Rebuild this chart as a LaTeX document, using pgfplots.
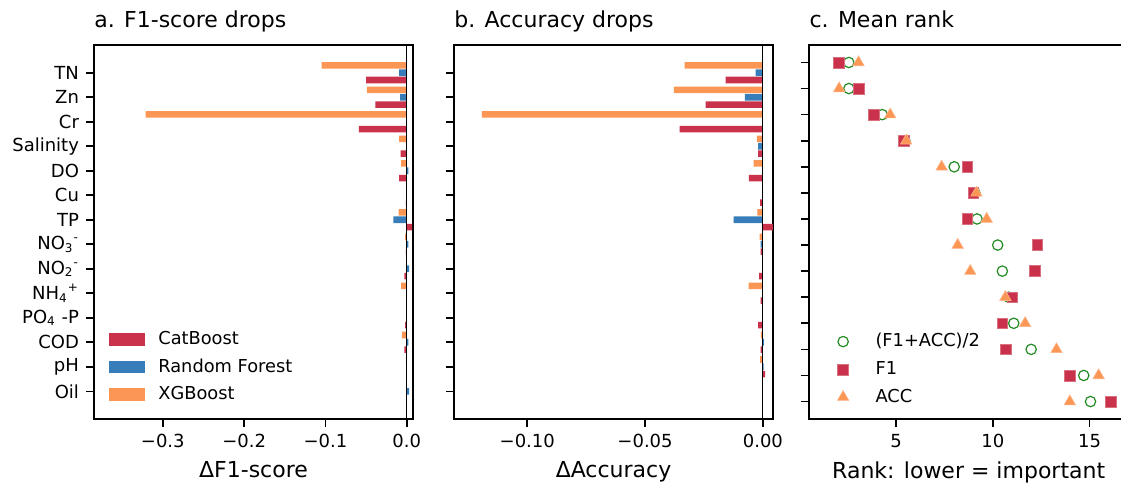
\documentclass[border=0pt]{standalone}
\usepackage{pgfplots}
\usepackage{pgfplotstable}
\pgfplotsset{compat=1.18}
\usepackage{fontspec}
\setmainfont{DejaVu Sans}
\definecolor{cat}{RGB}{201,50,74}
\definecolor{rf}{RGB}{55,125,185}
\definecolor{xgb}{RGB}{252,150,85}
\definecolor{mgreen}{RGB}{34,139,34}

% F1-score drops
\pgfplotstableread{
idx cat rf xgb
0 -0.050 -0.0095 -0.1046
1 -0.0386 -0.008 -0.049
2 -0.059 0 -0.321
3 -0.0074 0 -0.0095
4 -0.0095 0.002 -0.007
5 -0.0012 0 0
6 0.0065 -0.0165 -0.010
7 -0.001 0.002 -0.002
8 -0.003 0.003 0
9 0 0 -0.007
10 -0.002 0 0
11 -0.003 0.002 -0.006
12 0 0 -0.001
13 0 0.003 0
}\fone

% Accuracy drops
\pgfplotstableread{
idx cat rf xgb
0 -0.0158 -0.0031 -0.0332
1 -0.0243 -0.0076 -0.0378
2 -0.0353 0 -0.1193
3 -0.002 -0.002 -0.0025
4 -0.0059 0 -0.0039
5 -0.0012 0 0
6 0.0043 -0.0124 -0.0023
7 -0.001 -0.001 -0.0014
8 -0.0016 0 0
9 -0.001 0 -0.006
10 -0.002 0 0
11 -0.001 0.0004 -0.0008
12 0.001 0.0003 -0.0012
13 0 0 0
}\acc

% Mean rank
\pgfplotstableread{
idx f1 accr mean
0 2.05 3.05 2.55
1 3.05 2.05 2.55
2 3.86 4.69 4.28
3 5.38 5.52 5.45
4 8.68 7.35 8.00
5 8.99 9.15 9.07
6 8.68 9.68 9.18
7 12.30 8.18 10.25
8 12.15 8.83 10.49
9 11.00 10.65 10.82
10 10.49 11.67 11.08
11 10.66 13.29 11.98
12 13.98 15.47 14.70
13 16.10 13.98 15.05
}\rank

\pgfplotsset{
  myaxis/.style={
    scale only axis, width=159.5pt, height=187pt, anchor=south west,
    axis line style={line width=0.8pt},
    every tick/.style={line width=0.8pt, black},
    major tick length=4pt,
    tick align=outside, xtick pos=bottom, ytick pos=left,
    font=\fontsize{9}{11}\selectfont,
    tick label style={font=\fontsize{9}{11}\selectfont},
    label style={font=\fontsize{11}{13}\selectfont},
    title style={font=\fontsize{11}{13}\selectfont, at={(0,1)}, anchor=base west, yshift=3pt, inner sep=0pt},
    y dir=reverse, ytick={0,...,13},
  },
  mybar/.style={xbar, bar width=0.27, draw=none, fill=#1,
    legend image code/.code={\fill[#1] (0pt,-3.2pt) rectangle (18pt,3.2pt);}},
  barlegend/.style={legend style={at={(0.028,0.024)}, anchor=south west, draw=none, fill=none,
    font=\fontsize{8.9}{10.5}\selectfont, legend cell align=left, row sep=2.6pt,
    nodes={inner sep=1.5pt}, column sep=5pt}},
}

\begin{document}
\begin{tikzpicture}
% panel a
\begin{axis}[myaxis, at={(47pt,32.5pt)},
  xmin=-0.3846, xmax=0.0077, ymin=-1.13, ymax=14.13,
  xtick={-0.3,-0.2,-0.1,0}, xticklabels={−0.3,−0.2,−0.1,0.0},
  yticklabels={TN,Zn,Cr,Salinity,DO,Cu,TP,NO\textsubscript{3}\textsuperscript{-},NO\textsubscript{2}\textsuperscript{-},NH\textsubscript{4}\textsuperscript{+},PO\textsubscript{4} -P,COD,pH,Oil},
  xlabel={ΔF1-score}, title={a. F1-score drops}, barlegend]
\addplot[mybar=cat, bar shift=0.3] table[x=cat, y=idx]{\fone};
\addlegendentry{CatBoost}
\addplot[mybar=rf, bar shift=0] table[x=rf, y=idx]{\fone};
\addlegendentry{Random Forest}
\addplot[mybar=xgb, bar shift=-0.3] table[x=xgb, y=idx]{\fone};
\addlegendentry{XGBoost}
\addplot[black, line width=0.6pt, forget plot] coordinates {(0,-2) (0,16)};
\end{axis}
% panel b
\begin{axis}[myaxis, at={(227pt,32.5pt)},
  xmin=-0.1311, xmax=0.0043, ymin=-1.13, ymax=14.13,
  xtick={-0.1,-0.05,0}, xticklabels={−0.10,−0.05,0.00},
  yticklabels=\empty,
  xlabel={ΔAccuracy}, title={b. Accuracy drops}]
\addplot[mybar=cat, bar shift=0.3] table[x=cat, y=idx]{\acc};
\addplot[mybar=rf, bar shift=0] table[x=rf, y=idx]{\acc};
\addplot[mybar=xgb, bar shift=-0.3] table[x=xgb, y=idx]{\acc};
\addplot[black, line width=0.6pt] coordinates {(0,-2) (0,16)};
\end{axis}
% panel c
\begin{axis}[myaxis, at={(404.6pt,32.5pt)},
  xmin=0.5, xmax=17, ymin=-0.67, ymax=13.67,
  xtick={5,10,15}, xticklabels={5,10,15}, yticklabels=\empty,
  xlabel={Rank: lower = important}, title={c. Mean rank},
  legend style={at={(0.06,0.017)}, anchor=south west, draw=none, fill=none,
    font=\fontsize{8.9}{10.5}\selectfont, legend cell align=left, row sep=2.8pt,
    nodes={inner sep=1.5pt}},
  legend image code/.code={\draw[#1] plot coordinates {(4pt,0pt)}; \path (0pt,0pt) (18.5pt,0pt);}]
\addplot[only marks, mark=o, mark size=2.6pt, mgreen, mark options={line width=0.6pt, fill=none}] table[x=mean, y=idx]{\rank};
\addlegendentry{(F1+ACC)/2}
\addplot[only marks, mark=square*, mark size=2.7pt, cat, mark options={draw=cat!70!white, line width=0.3pt, fill=cat}] table[x=f1, y=idx]{\rank};
\addlegendentry{F1}
\addplot[only marks, mark=triangle*, mark size=3.3pt, xgb, mark options={draw=xgb!70!white, line width=0.3pt, fill=xgb}] table[x=accr, y=idx]{\rank};
\addlegendentry{ACC}
\end{axis}
\pgfresetboundingbox
\useasboundingbox (0,0) rectangle (560.5pt,242pt);
\end{tikzpicture}
\end{document}
